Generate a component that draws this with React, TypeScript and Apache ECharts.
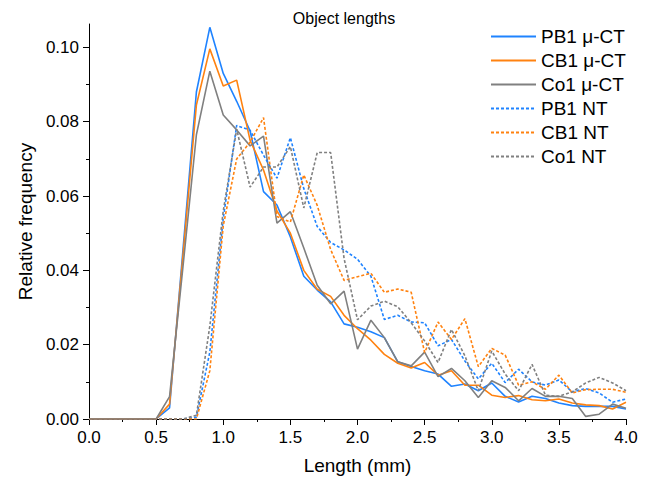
import React, { useEffect, useRef } from "react";
import * as echarts from "echarts";

const lengths = [
  0.0, 0.1, 0.2, 0.3, 0.4, 0.5, 0.6, 0.7, 0.8, 0.9,
  1.0, 1.1, 1.2, 1.3, 1.4, 1.5, 1.6, 1.7, 1.8, 1.9,
  2.0, 2.1, 2.2, 2.3, 2.4, 2.5, 2.6, 2.7, 2.8, 2.9,
  3.0, 3.1, 3.2, 3.3, 3.4, 3.5, 3.6, 3.7, 3.8, 3.9, 4.0,
];

const pb1Ct = [
  0, 0, 0, 0, 0, 0, 0.003, 0.0455, 0.088, 0.1054,
  0.093, 0.0855, 0.0775, 0.0612, 0.0576, 0.049, 0.0384, 0.0347, 0.0315, 0.0256,
  0.0247, 0.0235, 0.0219, 0.0154, 0.0141, 0.013, 0.0121, 0.0088, 0.0094, 0.0076,
  0.0097, 0.0061, 0.0046, 0.0061, 0.0055, 0.0043, 0.0036, 0.0034, 0.0034, 0.0034, 0.0027,
];
const cb1Ct = [
  0, 0, 0, 0, 0, 0, 0.004, 0.044, 0.0845, 0.0996,
  0.0896, 0.0912, 0.075, 0.067, 0.056, 0.05, 0.04, 0.0349, 0.033, 0.0279,
  0.0243, 0.0212, 0.0174, 0.015, 0.0137, 0.0152, 0.0118, 0.013, 0.0091, 0.0091,
  0.0064, 0.0058, 0.0063, 0.0052, 0.0049, 0.0054, 0.0043, 0.0038, 0.0036, 0.0027, 0.0045,
];
const co1Ct = [
  0, 0, 0, 0, 0, 0, 0.006, 0.041, 0.0765, 0.0936,
  0.0818, 0.0778, 0.0735, 0.0761, 0.0527, 0.0558, 0.046, 0.036, 0.031, 0.0344,
  0.0188, 0.0266, 0.0219, 0.0154, 0.0143, 0.018, 0.0114, 0.0136, 0.0103, 0.0058,
  0.0103, 0.0085, 0.0049, 0.0082, 0.0061, 0.0061, 0.0055, 0.0007, 0.0013, 0.004, 0.0029,
];
const pb1Nt = [
  0, 0, 0, 0, 0, 0, 0, 0, 0.0005, 0.018,
  0.054, 0.079, 0.0777, 0.071, 0.0648, 0.0757, 0.062, 0.0518, 0.0475, 0.0455,
  0.043, 0.0384, 0.0268, 0.0279, 0.0261, 0.0259, 0.0197, 0.0214, 0.0156, 0.0108,
  0.015, 0.0098, 0.0134, 0.01, 0.0091, 0.0105, 0.0073, 0.0082, 0.007, 0.0045, 0.0054,
];
const cb1Nt = [
  0, 0, 0, 0, 0, 0, 0, 0, 0, 0.013,
  0.052, 0.07, 0.0745, 0.0811, 0.0545, 0.053, 0.0657, 0.0575, 0.0456, 0.0373,
  0.0383, 0.0392, 0.0341, 0.035, 0.0341, 0.0179, 0.0261, 0.0214, 0.027, 0.0141,
  0.019, 0.0172, 0.0091, 0.01, 0.008, 0.0118, 0.007, 0.0079, 0.008, 0.008, 0.0072,
];
const co1Nt = [
  0, 0, 0, 0, 0, 0, 0, 0, 0.001, 0.025,
  0.056, 0.078, 0.0624, 0.0678, 0.0678, 0.0733, 0.0568, 0.0717, 0.0717, 0.0432,
  0.0267, 0.0304, 0.0317, 0.0302, 0.0259, 0.021, 0.0152, 0.0241, 0.017, 0.0076,
  0.0183, 0.0121, 0.0076, 0.0147, 0.0064, 0.0061, 0.0073, 0.0097, 0.0112, 0.0097, 0.0076,
];

const seriesNames = ["PB1 μ-CT", "CB1 μ-CT", "Co1 μ-CT", "PB1 NT", "CB1 NT", "Co1 NT"];
const seriesValues = [pb1Ct, cb1Ct, co1Ct, pb1Nt, cb1Nt, co1Nt];
const seriesColors = ["#1f83ff", "#ff8210", "#808080", "#1f83ff", "#ff8210", "#808080"];
const seriesDashed = [false, false, false, true, true, true];

const xTicks = [0, 0.5, 1, 1.5, 2, 2.5, 3, 3.5, 4];
const yTicks = [0, 0.02, 0.04, 0.06, 0.08, 0.1];

const FONT = "'Liberation Sans', Arial, sans-serif";

export default function App() {
  const ref = useRef<HTMLDivElement>(null);
  useEffect(() => {
    if (!ref.current) return;
    const chart = echarts.init(ref.current, null, { renderer: "svg" });
    chart.setOption({
      animation: false,
      backgroundColor: "#ffffff",
      textStyle: { fontFamily: FONT },
      graphic: [
        {
          type: "text",
          x: 344,
          y: 18,
          style: {
            text: "Object lengths",
            fontFamily: FONT,
            fontSize: 16,
            fill: "#000",
            textAlign: "center",
            textVerticalAlign: "middle",
          },
        },
      ],
      legend: {
        orient: "vertical",
        left: 485,
        top: 22,
        itemWidth: 45,
        itemHeight: 14,
        itemGap: 5,
        data: seriesNames,
        itemStyle: { opacity: 0, borderWidth: 0 },
        textStyle: { fontFamily: FONT, fontSize: 19, color: "#000", lineHeight: 19 },
      },
      grid: { left: 89, right: 20, top: 24, bottom: 63 },
      xAxis: {
        type: "value",
        min: 0,
        max: 4,
        interval: 0.5,
        name: "Length (mm)",
        nameLocation: "middle",
        nameGap: 37,
        nameTextStyle: { fontFamily: FONT, fontSize: 19, color: "#000" },
        axisLine: { show: true, lineStyle: { color: "#000", width: 1 } },
        axisTick: { show: true, inside: false, length: 6, lineStyle: { color: "#000" }, customValues: xTicks },
        minorTick: { show: true, splitNumber: 2, length: 3, lineStyle: { color: "#000" } },
        axisLabel: {
          fontFamily: FONT,
          fontSize: 17,
          color: "#000",
          margin: 10,
          customValues: xTicks,
          formatter: (v: number) => v.toFixed(1),
        },
        splitLine: { show: false },
      },
      yAxis: {
        type: "value",
        min: 0,
        max: 0.1063,
        interval: 0.02,
        name: "Relative frequency",
        nameLocation: "middle",
        nameGap: 52,
        nameTextStyle: { fontFamily: FONT, fontSize: 19, color: "#000" },
        axisLine: { show: true, lineStyle: { color: "#000", width: 1 } },
        axisTick: { show: true, inside: false, length: 6, lineStyle: { color: "#000" }, customValues: yTicks },
        minorTick: { show: true, splitNumber: 2, length: 3, lineStyle: { color: "#000" } },
        axisLabel: {
          fontFamily: FONT,
          fontSize: 17,
          color: "#000",
          margin: 10,
          showMaxLabel: true,
          customValues: yTicks,
          formatter: (v: number) => v.toFixed(2),
        },
        splitLine: { show: false },
      },
      series: seriesNames.map((name, i) => ({
        name,
        type: "line",
        data: lengths.map((x, j) => [x, seriesValues[i][j]]),
        symbol: "none",
        showSymbol: false,
        color: seriesColors[i],
        lineStyle: {
          color: seriesColors[i],
          width: 1.6,
          type: seriesDashed[i] ? [3, 2] : "solid",
        },
        itemStyle: { color: seriesColors[i] },
      })),
    });
    return () => chart.dispose();
  }, []);
  return <div ref={ref} style={{ width: 646, height: 482, position: "absolute", left: 0, top: 0 }} />;
}
